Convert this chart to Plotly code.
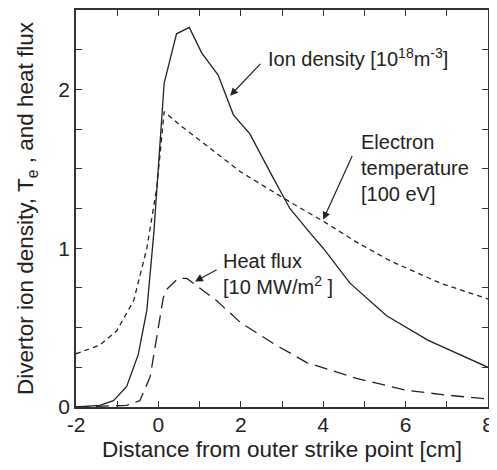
import plotly.graph_objects as go

# Ion density [1e18 m^-3]
ion_x = [-2, -1.42, -1.09, -0.77, -0.49, -0.28, -0.11, 0.14, 0.44, 0.75, 1.05, 1.45, 1.82, 2.22, 2.75, 3.19, 3.7, 4.0, 4.65, 5.54, 6.55, 8.0]
ion_y = [0, 0.01, 0.04, 0.13, 0.33, 0.61, 1.1, 2.04, 2.35, 2.39, 2.23, 2.09, 1.84, 1.72, 1.46, 1.25, 1.09, 1.0, 0.78, 0.575, 0.42, 0.25]

# Electron temperature [100 eV]
te_x = [-2, -1.42, -1.01, -0.6, -0.28, -0.04, 0.14, 0.5, 1.0, 2.0, 3.2, 4.0, 4.8, 5.63, 6.84, 8.0]
te_y = [0.335, 0.39, 0.48, 0.67, 1.0, 1.38, 1.86, 1.78, 1.68, 1.48, 1.29, 1.17, 1.04, 0.92, 0.78, 0.68]

# Heat flux [10 MW/m^2]
hf_x = [-2, -0.77, -0.45, -0.2, 0.12, 0.2, 0.48, 0.69, 1.41, 2.0, 2.79, 3.6, 4.81, 6.03, 7.0, 8.0]
hf_y = [0, 0.01, 0.04, 0.19, 0.69, 0.74, 0.81, 0.81, 0.67, 0.53, 0.40, 0.28, 0.18, 0.105, 0.075, 0.05]

x_ticks = [-2, -1, 0, 1, 2, 3, 4, 5, 6, 7, 8]
x_labels = ["-2", "", "0", "", "2", "", "4", "", "6", "", "8"]
y_ticks = [0, 0.25, 0.5, 0.75, 1, 1.25, 1.5, 1.75, 2, 2.25, 2.5]
y_labels = ["0", "", "", "", "1", "", "", "", "2", "", ""]

FONT = "Liberation Sans, Arial, Helvetica, sans-serif"
INK = "#222222"

fig = go.Figure()
fig.add_trace(go.Scatter(x=ion_x, y=ion_y, mode="lines",
                         line=dict(color=INK, width=1.3)))
fig.add_trace(go.Scatter(x=te_x, y=te_y, mode="lines",
                         line=dict(color=INK, width=1.3, dash="5px,4px")))
fig.add_trace(go.Scatter(x=hf_x, y=hf_y, mode="lines",
                         line=dict(color=INK, width=1.3, dash="13px,7px")))

axis_common = dict(showgrid=False, zeroline=False, showline=True, linecolor="#333333",
                   linewidth=1.5, mirror="allticks", ticks="inside", ticklen=6,
                   tickcolor="#333333", tickwidth=1,
                   tickfont=dict(family=FONT, size=21, color=INK))

fig.update_xaxes(range=[-2, 8], tickmode="array", tickvals=x_ticks, ticktext=x_labels,
                 ticklabelstandoff=-2,
                 title=dict(text="Distance from outer strike point [cm]",
                            font=dict(family=FONT, size=22.5, color=INK), standoff=6),
                 **axis_common)
fig.update_yaxes(range=[0, 2.5], tickmode="array", tickvals=y_ticks, ticktext=y_labels,
                 title=dict(text="Divertor ion density, T<sub>e</sub> , and heat flux",
                            font=dict(family=FONT, size=22.5, color=INK), standoff=18),
                 **axis_common)

ann_font = dict(family=FONT, size=20, color=INK)
annotations = [
    dict(x=2.62, y=2.2, text="Ion density [10<sup>18</sup>m<sup>-3</sup>]", showarrow=False,
         xanchor="left", yanchor="middle", font=ann_font),
    dict(x=4.86, y=1.506, text="Electron<br>temperature<br>[100 eV]", showarrow=False,
         xanchor="left", yanchor="middle", align="left", font=ann_font),
    dict(x=1.53, y=0.84, text="Heat flux<br>[10 MW/m<sup>2</sup> ]", showarrow=False,
         xanchor="left", yanchor="middle", align="left", font=ann_font),
    dict(x=1.74, y=1.96, ax=2.51, ay=2.17, axref="x", ayref="y", text="", showarrow=True,
         arrowhead=2, arrowsize=1.3, arrowwidth=1.2, arrowcolor=INK),
    dict(x=4.0, y=1.18, ax=4.72, ay=1.59, axref="x", ayref="y", text="", showarrow=True,
         arrowhead=2, arrowsize=1.3, arrowwidth=1.2, arrowcolor=INK),
    dict(x=0.89, y=0.79, ax=1.45, ay=0.87, axref="x", ayref="y", text="", showarrow=True,
         arrowhead=2, arrowsize=1.3, arrowwidth=1.2, arrowcolor=INK),
]

# page body has an 8px default margin, so the figure is 8px smaller than the window
fig.update_layout(width=489, height=462, showlegend=False,
                  margin=dict(l=68, r=9, t=0, b=63),
                  plot_bgcolor="white", paper_bgcolor="white",
                  font=dict(family=FONT, color=INK),
                  annotations=annotations)

fig.write_html("out.html")
